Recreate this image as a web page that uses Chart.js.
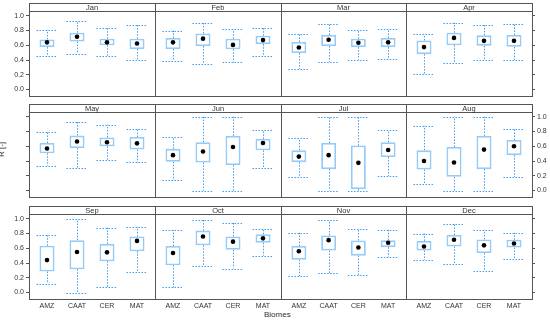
<!DOCTYPE html>
<html>
<head>
<meta charset="utf-8">
<script src="https://cdn.jsdelivr.net/npm/chart.js@4.4.0/dist/chart.umd.min.js"></script>
<style>
  body { margin: 0; background: #fff; width: 550px; height: 321px; position: relative; overflow: hidden; font-family: "Liberation Sans", Arial, sans-serif; }
  canvas { position: absolute; }
  .lab { position: absolute; font-size: 8px; color: #333; white-space: nowrap; }
</style>
</head>
<body>
<div class="lab" id="ylab" style="left:-6px;top:145px;transform:rotate(-90deg);">R [-]</div>
<div class="lab" style="left:264px;top:310px;">Biomes</div>
<script>
// monthly boxplots of R per biome
var months = ['Jan','Feb','Mar','Apr','May','Jun','Jul','Aug','Sep','Oct','Nov','Dec'];
var biomes = ['AMZ','CAAT','CER','MAT'];
var yTicks = [0, 0.2, 0.4, 0.6, 0.8, 1.0];

var whiskerLow = [
  [0.45,0.485,0.45,0.395],[0.39,0.345,0.37,0.45],[0.28,0.375,0.405,0.41],[0.21,0.36,0.395,0.40],
  [0.335,0.31,0.415,0.38],[0.14,0.0,0.0,0.31],[0.19,0.0,0.0,0.2],[0.095,0.0,0.0,0.185],
  [0.12,0.0,0.08,0.275],[0.07,0.355,0.325,0.50],[0.22,0.26,0.24,0.485],[0.44,0.385,0.295,0.455]
];
var boxLow = [
  [0.575,0.65,0.60,0.55],[0.55,0.59,0.545,0.615],[0.495,0.59,0.575,0.575],[0.48,0.60,0.595,0.58],
  [0.505,0.575,0.60,0.555],[0.39,0.38,0.345,0.545],[0.385,0.29,0.02,0.455],[0.285,0.185,0.29,0.48],
  [0.285,0.315,0.425,0.56],[0.37,0.64,0.58,0.675],[0.445,0.57,0.50,0.615],[0.57,0.625,0.535,0.61]
];
var median = [
  [0.64,0.715,0.64,0.625],[0.64,0.69,0.605,0.67],[0.57,0.675,0.635,0.64],[0.575,0.70,0.66,0.66],
  [0.57,0.665,0.655,0.64],[0.48,0.53,0.59,0.645],[0.46,0.48,0.375,0.55],[0.40,0.38,0.555,0.60],
  [0.44,0.55,0.545,0.70],[0.535,0.76,0.69,0.735],[0.56,0.71,0.61,0.675],[0.625,0.715,0.64,0.665]
];
var boxHigh = [
  [0.68,0.77,0.69,0.69],[0.70,0.76,0.69,0.73],[0.645,0.74,0.69,0.70],[0.665,0.77,0.735,0.74],
  [0.645,0.745,0.72,0.725],[0.565,0.655,0.74,0.70],[0.545,0.645,0.61,0.655],[0.545,0.59,0.74,0.685],
  [0.635,0.71,0.66,0.76],[0.63,0.84,0.76,0.79],[0.63,0.775,0.705,0.71],[0.70,0.78,0.72,0.715]
];
var whiskerHigh = [
  [0.81,0.93,0.83,0.88],[0.80,0.90,0.815,0.84],[0.755,0.895,0.81,0.825],[0.75,0.905,0.875,0.885],
  [0.795,0.935,0.895,0.84],[0.725,1.0,1.0,0.82],[0.71,1.0,1.0,0.815],[0.88,1.0,1.0,0.84],
  [0.775,1.0,0.88,0.89],[0.845,0.99,0.945,0.865],[0.81,0.98,0.865,0.85],[0.80,0.925,0.85,0.81]
];

var colEdges = [29, 155, 281, 406, 532];
var stripTops = [3, 104, 206];
var STRIP = 8, PANEL_H = 85;
var L = 30, R = 24, T = 2, B = 16;
var boxBlue = '#95cbf8', dotBlue = '#3d9ef5', frame = '#555', txt = '#333';
var tickFont = { family: '"Liberation Sans", Arial, sans-serif', size: 7 };

// dotted whiskers + caps, drawn with the chart scales
var whiskers = {
  id: 'whiskers',
  beforeDatasetsDraw: function (chart) {
    var m = chart.options.plugins.whiskers.month;
    var xs = chart.scales.x, ys = chart.scales.y, ctx = chart.ctx;
    ctx.save();
    ctx.strokeStyle = dotBlue;
    ctx.lineWidth = 1;
    ctx.setLineDash([1.5, 1.5]);
    biomes.forEach(function (b, i) {
      var x = Math.round(xs.getPixelForValue(i + 1)) + 0.5;
      var c0 = xs.getPixelForValue(i + 1 - 0.35), c1 = xs.getPixelForValue(i + 1 + 0.35);
      var yh = ys.getPixelForValue(whiskerHigh[m][i]), yl = ys.getPixelForValue(whiskerLow[m][i]);
      ctx.beginPath();
      ctx.moveTo(x, ys.getPixelForValue(boxHigh[m][i])); ctx.lineTo(x, yh);
      ctx.moveTo(x, ys.getPixelForValue(boxLow[m][i])); ctx.lineTo(x, yl);
      ctx.moveTo(c0, Math.round(yh) + 0.5); ctx.lineTo(c1, Math.round(yh) + 0.5);
      ctx.moveTo(c0, Math.round(yl) + 0.5); ctx.lineTo(c1, Math.round(yl) + 0.5);
      ctx.stroke();
    });
    ctx.restore();
  },
  afterDraw: function (chart) {
    var a = chart.chartArea, ctx = chart.ctx;
    var m = chart.options.plugins.whiskers.month;
    ctx.save();
    ctx.strokeStyle = frame;
    ctx.lineWidth = 1;
    ctx.strokeRect(Math.round(a.left) + 0.5, Math.round(a.top) + 0.5, Math.round(a.right - a.left), Math.round(a.bottom - a.top));
    ctx.strokeRect(Math.round(a.left) + 0.5, Math.round(a.top) - STRIP + 0.5, Math.round(a.right - a.left), STRIP);
    ctx.fillStyle = txt;
    ctx.font = '7.5px "Liberation Sans", Arial, sans-serif';
    ctx.textAlign = 'center';
    ctx.textBaseline = 'middle';
    ctx.fillText(months[m], (a.left + a.right) / 2, a.top - STRIP / 2 + 0.5);
    ctx.restore();
  }
};

function setTicks(axis) {
  axis.ticks = yTicks.map(function (v) { return { value: v }; });
}

function makePanel(m) {
  var row = Math.floor(m / 4), col = m % 4;
  var w = colEdges[col + 1] - colEdges[col];
  var cv = document.createElement('canvas');
  cv.width = w + L + R;
  cv.height = T + STRIP + PANEL_H + B;
  cv.style.left = (colEdges[col] - L) + 'px';
  cv.style.top = (stripTops[row] - T) + 'px';
  document.body.appendChild(cv);

  new Chart(cv, {
    type: 'bar',
    data: {
      datasets: [
        {
          type: 'scatter',
          data: biomes.map(function (b, i) { return { x: i + 1, y: median[m][i] }; }),
          backgroundColor: '#000', borderWidth: 0, pointRadius: 2.3, order: 0
        },
        {
          type: 'bar',
          data: biomes.map(function (b, i) { return { x: i + 1, y: [boxLow[m][i], boxHigh[m][i]] }; }),
          backgroundColor: '#fff', borderColor: boxBlue, borderWidth: 1.8,
          borderSkipped: false, barPercentage: 0.5, categoryPercentage: 1, order: 1
        }
      ]
    },
    options: {
      responsive: false, animation: false, devicePixelRatio: 1,
      // hidden axes still get their afterFit size, so they reserve the margins
      layout: { padding: { left: 0, right: 0, top: T + STRIP, bottom: 0 } },
      plugins: { legend: { display: false }, tooltip: { enabled: false }, whiskers: { month: m } },
      scales: {
        x: {
          type: 'linear', min: 0.4, max: 4.6, offset: false, display: row === 2,
          afterBuildTicks: function (axis) { axis.ticks = biomes.map(function (b, i) { return { value: i + 1 }; }); },
          ticks: { callback: function (v) { return biomes[v - 1]; }, font: tickFont, color: txt, padding: 3, maxRotation: 0, autoSkip: false },
          grid: { display: false, drawTicks: false, offset: false }, border: { display: false },
          afterFit: function (axis) { axis.height = B; }
        },
        y: {
          position: 'left', min: -0.088, max: 1.065, display: col === 0,
          afterBuildTicks: setTicks,
          ticks: { callback: function (v) { return row === 1 ? '' : v.toFixed(1); }, font: tickFont, color: txt, padding: 2 },
          grid: { drawOnChartArea: false, tickLength: 3, color: frame }, border: { display: false },
          afterFit: function (axis) { axis.width = L; }
        },
        y2: {
          position: 'right', min: -0.088, max: 1.065, display: col === 3,
          afterBuildTicks: setTicks,
          ticks: { callback: function (v) { return row === 1 ? v.toFixed(1) : ''; }, font: tickFont, color: txt, padding: 2 },
          grid: { drawOnChartArea: false, tickLength: 3, color: frame }, border: { display: false },
          afterFit: function (axis) { axis.width = R; }
        }
      }
    },
    plugins: [whiskers]
  });
}

months.forEach(function (mo, m) { makePanel(m); });
</script>
</body>
</html>
